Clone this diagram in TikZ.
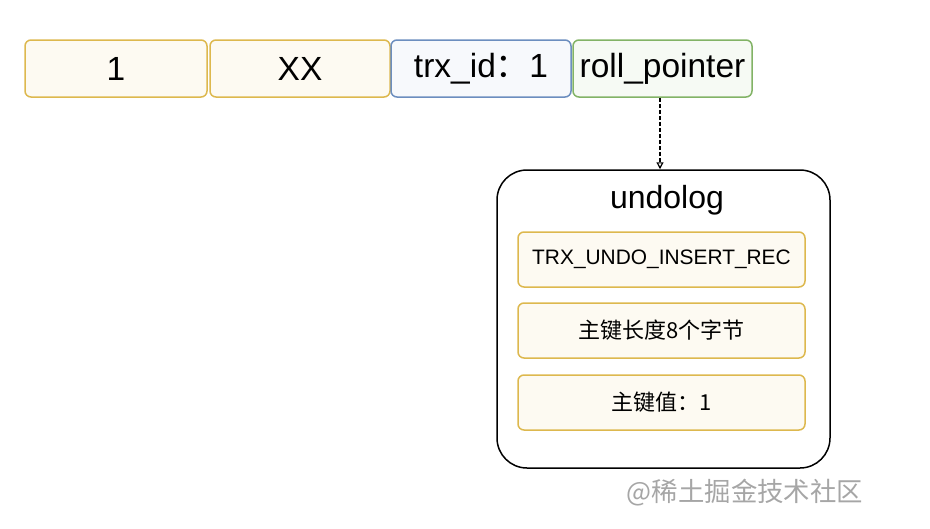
\documentclass[tikz,border=0pt]{standalone}
\usepackage{fontspec}
\setmainfont{Liberation Sans}
\newfontfamily\cjk{Noto Sans CJK SC}
\usetikzlibrary{arrows.meta}
\definecolor{ystroke}{HTML}{DDB84E}
\definecolor{yfill}{HTML}{FDFAF2}
\definecolor{bstroke}{HTML}{6C8EBF}
\definecolor{bfill}{HTML}{F7F9FC}
\definecolor{gstroke}{HTML}{82B366}
\definecolor{gfill}{HTML}{F6FAF4}
\tikzset{
  cell/.style={draw, line width=1.5pt, rounded corners=6pt, inner sep=0pt, font=\fontsize{33.5}{38}\selectfont},
  ycell/.style={cell, draw=ystroke, fill=yfill},
  bcell/.style={cell, draw=bstroke, fill=bfill},
  gcell/.style={cell, draw=gstroke, fill=gfill},
  inbox/.style={draw=ystroke, fill=yfill, line width=1.5pt, rounded corners=6pt, inner sep=0pt, minimum width=287pt, minimum height=55pt, font=\fontsize{20.9}{24}\selectfont},
}
\begin{document}
\begin{tikzpicture}[x=1pt,y=-1pt]
\useasboundingbox (0,0) rectangle (930,528);
\node[ycell, minimum width=182pt, minimum height=57pt] (c1) at (116,68.5) {1};
\node[ycell, minimum width=180pt, minimum height=57pt] (c2) at (300,68.5) {XX};
\node[bcell, minimum width=180pt, minimum height=57pt] (c3) at (481,68.5) {trx\_id{\cjk ：}1};
\node[gcell, minimum width=179pt, minimum height=57pt] (c4) at (662.5,68.5) {roll\_pointer};
\node[draw=black, line width=1.5pt, rounded corners=30pt, minimum width=333pt, minimum height=298pt] (undo) at (663.5,319) {};
\node[font=\fontsize{32}{36}\selectfont, anchor=center] (title) at (667,200) {undolog};
\node[inbox] (r1) at (661.5,259.5) {TRX\_UNDO\_INSERT\_REC};
\node[inbox] (r2) at (661.5,330.5) {\cjk\fontsize{22}{26}\selectfont 主键长度8个字节};
\node[inbox] (r3) at (661.5,402.5) {\cjk\fontsize{22}{26}\selectfont 主键值：1};
\node[text=black!35, font=\cjk\fontsize{26.4}{30}\selectfont] (wm) at (745,493) {@稀土掘金技术社区};
\draw[line width=1.6pt, dash pattern=on 4pt off 2pt, -{Triangle[open,length=7pt,width=7pt,line width=1.2pt]}] (c4.south -| 660,0) -- (undo.north -| 660,0);
\end{tikzpicture}
\end{document}
